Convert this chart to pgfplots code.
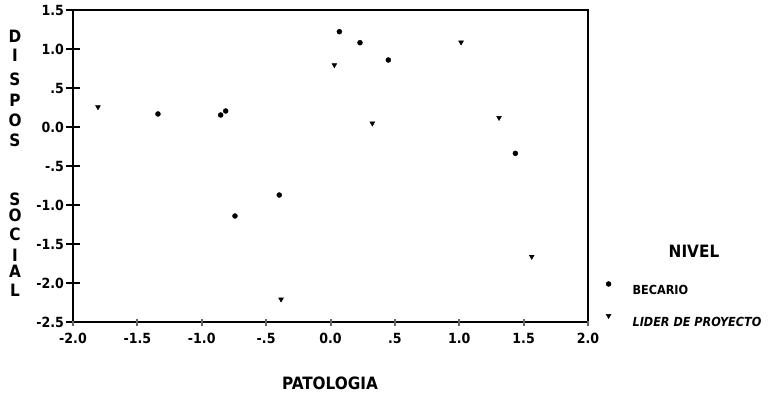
\documentclass[border=0pt]{standalone}
\usepackage{fontspec}
\setmainfont{DejaVu Sans Condensed}
\usepackage{pgfplots}
\pgfplotsset{compat=1.18}
\begin{document}
\begin{tikzpicture}
\path[use as bounding box] (0pt,0pt) rectangle (779pt,397pt);
\begin{axis}[
  at={(73pt,75pt)}, anchor=south west,
  width=515pt, height=312pt, scale only axis,
  xmin=-2, xmax=2, ymin=-2.5, ymax=1.5,
  axis line style={black, line width=1.3pt},
  xtick pos=bottom, ytick pos=left,
  xtick={-2,-1.5,-1,-0.5,0,0.5,1,1.5,2},
  xticklabels={-2.0,-1.5,-1.0,-.5,0.0,.5,1.0,1.5,2.0},
  ytick={-2.5,-2,-1.5,-1,-0.5,0,0.5,1,1.5},
  yticklabels={-2.5,-2.0,-1.5,-1.0,-.5,0.0,.5,1.0,1.5},
  major tick length=13pt,
  tick align=center,
  tick style={black, line width=2pt},
  xtick style={black!60, line width=2pt, /pgfplots/major tick length=6pt},
  ticklabel style={font=\fontsize{14}{16}\selectfont\bfseries},
  xticklabel style={yshift=-1pt},
  yticklabel style={xshift=1pt},
  clip=false,
  legend style={at={(rel axis cs:1.026,0.137)}, anchor=north west, draw=none, fill=none,
    font=\fontsize{12.5}{14}\selectfont\bfseries, row sep=16pt},
  legend cell align=left,
  legend image code/.code={\draw[#1] plot coordinates {(4pt,7pt)}; \path[draw=none] (0pt,0pt) (26pt,0pt);},
]
\pgfplotsinvokeforeach{-2.5,-2,-1.5,-1,-0.5,0,0.5,1,1.5}{
  \draw[black, line width=2pt] (axis cs:-2,#1) ++(-7pt,0pt) -- ++(14pt,0pt);}
\pgfplotsinvokeforeach{-2,-1.5,-1,-0.5,0,0.5,1,1.5,2}{
  \draw[black!60, line width=2pt] (axis cs:#1,-2.5) ++(0pt,1pt) -- ++(0pt,-5pt);}
\addplot[only marks, mark=*, mark size=2.5pt, black] coordinates {
(-1.34,0.167) (-0.853,0.154) (-0.814,0.205) (-0.742,-1.141) (-0.398,-0.872)
(0.069,1.222) (0.229,1.081) (0.449,0.859) (1.436,-0.338)};
\addlegendentry{BECARIO}
\addplot[only marks, mark=triangle*, mark size=2.8pt, black, mark options={rotate=180}] coordinates {
(-1.806,0.256) (-0.384,-2.209) (0.030,0.795) (0.325,0.047) (1.014,1.086)
(1.309,0.119) (1.563,-1.662)};
\addlegendentry{\itshape LIDER DE PROYECTO}
\end{axis}
\node[font=\fontsize{17}{19}\selectfont\bfseries] at (694pt,146pt) {NIVEL};
\node[font=\fontsize{17}{19}\selectfont\bfseries] at (330pt,14pt) {PATOLOGIA};
\foreach \l/\yy in {D/36,I/55,S/79,P/100,O/120,S/140,S/199,O/215,C/234,I/255,A/271,L/290}{
  \node[font=\fontsize{17}{19}\selectfont\bfseries] at (15pt,397pt-\yy pt) {\l};
}
\end{tikzpicture}
\end{document}
